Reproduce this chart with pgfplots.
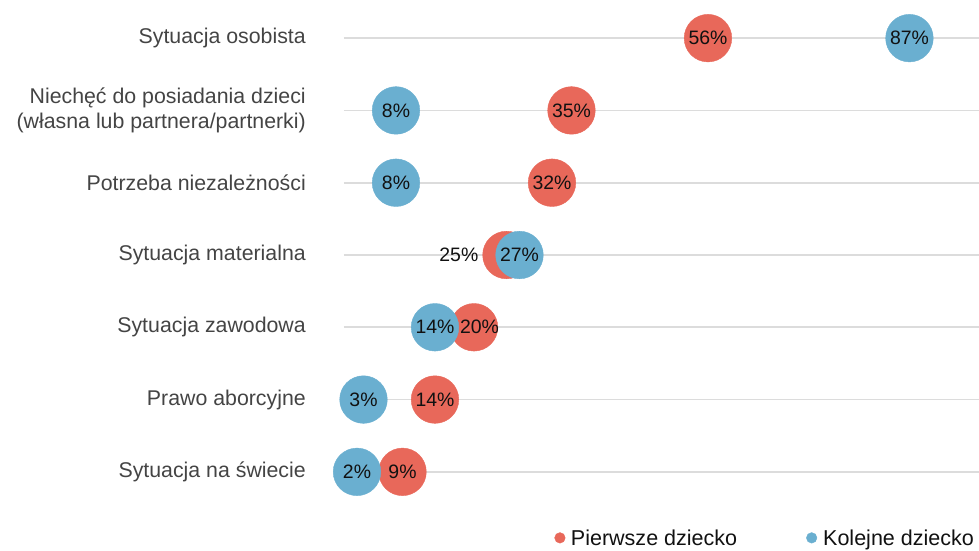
\documentclass[border=0pt]{standalone}
\usepackage{fontspec}
\setmainfont{Liberation Sans}
\usepackage{pgfplots}
\pgfplotsset{compat=1.18}
\definecolor{cred}{HTML}{E8685A}
\definecolor{cblue}{HTML}{6AAFD0}
\definecolor{lab}{HTML}{444444}
\definecolor{gridc}{HTML}{DCDCDC}
\definecolor{txt}{HTML}{111111}
\begin{document}
\begin{tikzpicture}
\path[use as bounding box] (-344bp,-43bp) rectangle (635bp,508bp);
\begin{axis}[
  scale only axis, width=635bp, height=506bp,
  xmin=0, xmax=97.7, ymin=-0.5, ymax=6.5,
  axis line style={draw=none},
  xtick=\empty,
  ytick={0,...,6},
  yticklabels={Sytuacja na świecie, Prawo aborcyjne, Sytuacja zawodowa, Sytuacja materialna, Potrzeba niezależności, {Niechęć do posiadania dzieci\\(własna lub partnera/partnerki)}, Sytuacja osobista},
  major tick length=0pt,
  ymajorgrids,
  major grid style={gridc, line width=1.6bp},
  yticklabel style={font=\fontsize{21.4}{24.5}\selectfont, text=lab, align=right, inner sep=0pt, xshift=-38bp},
  clip=false,
  legend style={at={(0.997,-0.061)}, anchor=east, draw=none, fill=none,
    font=\fontsize{21.6}{24}\selectfont, text=txt,
    nodes={inner sep=0pt},
    /tikz/column 1/.style={column sep=5.5bp},
    /tikz/column 2/.style={column sep=69bp},
    /tikz/column 3/.style={column sep=6bp}},
  legend columns=2,
  legend cell align=left,
  legend image code/.code={\fill[#1] (0bp,1bp) circle (5.3bp);},
  nodes near coords={\pgfplotspointmeta\%},
  point meta=explicit symbolic,
  every node near coord/.append style={anchor=center, inner sep=0pt, font=\fontsize{19.5}{24}\selectfont, text=txt},
]
\addplot[only marks, mark=*, mark size=23.8bp, color=cred, mark options={draw=none, fill=cred}]
  coordinates {(56,6) [56] (35,5) [35] (32,4) [32] (14,1) [14] (9,0) [9]};
\addlegendentry{Pierwsze dziecko}
\addplot[only marks, mark=*, mark size=23.8bp, color=cred, mark options={draw=none, fill=cred}, forget plot,
  every node near coord/.append style={anchor=east, xshift=-28bp}]
  coordinates {(25,3) [25]};
\addplot[only marks, mark=*, mark size=23.8bp, color=cred, mark options={draw=none, fill=cred}, forget plot,
  every node near coord/.append style={xshift=5.5bp}]
  coordinates {(20,2) [20]};
\addplot[only marks, mark=*, mark size=23.8bp, color=cblue, mark options={draw=none, fill=cblue}]
  coordinates {(87,6) [87] (8,5) [8] (8,4) [8] (27,3) [27] (14,2) [14] (3,1) [3] (2,0) [2]};
\addlegendentry{Kolejne dziecko}
\end{axis}
\end{tikzpicture}
\end{document}
